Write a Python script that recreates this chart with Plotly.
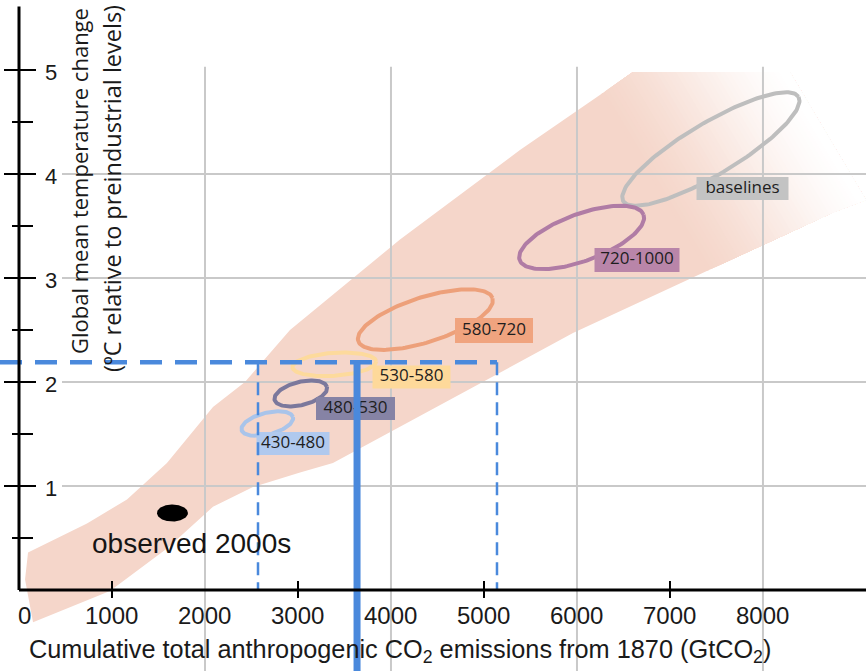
import numpy as np
import plotly.graph_objects as go

# ---------------- data ----------------
scenario_labels = ["baselines", "720-1000", "580-720", "530-580", "480-530", "430-480"]
scenario_emissions = [7440, 6050, 4370, 3390, 3030, 2670]   # ellipse centre, GtCO2
scenario_warming = [4.24, 3.39, 2.60, 2.17, 1.89, 1.60]     # ellipse centre, degC
observed_label = "observed 2000s"
observed_emissions = [1650]
observed_warming = [0.74]

# uncertainty plume (upper and lower edges)
band_upper_x = [65, 97, 731, 1161, 1591, 2086, 2430, 2914, 4097, 5387, 6602, 8290]
band_upper_y = [0.10, 0.36, 0.64, 0.87, 1.22, 1.76, 2.00, 2.50, 3.37, 4.23, 4.98, 4.98]
band_lower_x = [151, 978, 1591, 2086, 2516, 3022, 3376, 4097, 5957, 8753, 9108]
band_lower_y = [-0.31, -0.01, 0.40, 0.80, 0.99, 1.13, 1.22, 1.57, 2.47, 3.63, 3.75]

target_warming = 2.19
target_emissions_low = 2570
target_emissions_mid = 3635
target_emissions_high = 5140

x_ticks = [0, 1000, 2000, 3000, 4000, 5000, 6000, 7000, 8000]
y_ticks = [1, 2, 3, 4, 5]
x_title = "Cumulative total anthropogenic CO<sub>2</sub> emissions from 1870 (GtCO<sub>2</sub>)"
y_title_1 = "Global mean temperature change"
y_title_2 = "(ºC relative to preindustrial levels)"

# ---------------- layout geometry ----------------
W, H = 866, 671
XMIN, XMAX = -204.3, 9108.0
YMIN, YMAX = -0.779, 5.673
KX = W / (XMAX - XMIN)
KY = H / (YMAX - YMIN)


def to_px(x, y):
    return (np.asarray(x) - XMIN) * KX, (YMAX - np.asarray(y)) * KY


def dx(px):
    return px / KX


def dy(py):
    return py / KY


def ellipse(cx, cy, a_px, b_px, ang, n=160):
    t = np.linspace(0, 2 * np.pi, n)
    th = np.radians(ang)
    ex = a_px * np.cos(t) * np.cos(th) - b_px * np.sin(t) * np.sin(th)
    ey = a_px * np.cos(t) * np.sin(th) + b_px * np.sin(t) * np.cos(th)
    return cx + dx(ex), cy + dy(ey)


PINK = np.array([245, 214, 202], float)
WHITE = np.array([255, 255, 255], float)
fig = go.Figure()

# ---- plume with fading end ----
ux, uy = np.array(band_upper_x, float), np.array(band_upper_y, float)
lx, ly = np.array(band_lower_x, float), np.array(band_lower_y, float)


def s_of(x, y):
    px, py = to_px(x, y)
    return px - 0.6 * py


su, sl = s_of(ux, uy), s_of(lx, ly)


def seg(xs, ys, ss, sa, sb):
    m = (ss > sa) & (ss < sb)
    px = list(xs[m]); py = list(ys[m])
    if sa > ss[0]:
        px.insert(0, np.interp(sa, ss, xs)); py.insert(0, np.interp(sa, ss, ys))
    if sb < ss[-1]:
        px.append(np.interp(sb, ss, xs)); py.append(np.interp(sb, ss, ys))
    return px, py


def band_poly(sa, sb, color):
    ax_, ay_ = seg(ux, uy, su, sa, sb)
    bx_, by_ = seg(lx, ly, sl, sa, sb)
    fig.add_trace(go.Scatter(x=ax_ + bx_[::-1], y=ay_ + by_[::-1], fill="toself", mode="lines",
                             line=dict(width=0), fillcolor=color,
                             hoverinfo="skip", showlegend=False))


S0, S1, N = 545.0, 740.0, 40
band_poly(-1e9, S0 + 2, "rgb(%d,%d,%d)" % tuple(PINK))
starts = np.linspace(S0, S1, N + 1)[:-1]
for k, sk in enumerate(starts):
    t = (sk + (S1 - S0) / N / 2 - S0) / (S1 - S0)
    op = 1 - (3 * t * t - 2 * t ** 3) * 0.5 - t * 0.5
    c = WHITE * (1 - op) + PINK * op
    band_poly(sk, 1e9, "rgb(%d,%d,%d)" % tuple(np.round(c)))

# ---- grid lines ----
GRID = "#c9c9c9"
for gx in [2000, 4000, 6000, 8000]:
    fig.add_trace(go.Scatter(x=[gx, gx], y=[5.03, YMIN], mode="lines",
                             line=dict(color=GRID, width=2), hoverinfo="skip", showlegend=False))
for gy in [1, 2, 3, 4]:
    fig.add_trace(go.Scatter(x=[dx(62) + XMIN, XMAX], y=[gy, gy], mode="lines",
                             line=dict(color=GRID, width=2), hoverinfo="skip", showlegend=False))

# ---- observed dot ----
ox, oy = ellipse(observed_emissions[0], observed_warming[0], 15.5, 8.5, 0)
fig.add_trace(go.Scatter(x=ox, y=oy, fill="toself", mode="lines", line=dict(width=0, color="black"),
                         fillcolor="black", hoverinfo="skip", showlegend=False))

# ---- scenario ellipses ----
ell_geom = [(102, 26, 30.8), (66, 23.5, 20.2), (70.5, 22.5, 17.7), (42, 11.5, 4), (27, 11.6, 14), (26.5, 10.8, 14)]
line_cols = ["#bebebe", "#b07ca5", "#eda07a", "#fdda9c", "#7b789c", "#a9c4ea"]
box_cols = ["#c3c3c3", "#b985a9", "#f0a47f", "#fed99a", "#8683a5", "#b0c9ee"]
box_px = [(742.5, 188.5, 92, 23), (637, 260, 85, 24), (494, 330.5, 78, 25),
          (411.5, 377, 78, 23), (355.5, 408.5, 79, 23), (293, 443.5, 73, 23)]
for i in range(len(scenario_labels)):
    a, b, ang = ell_geom[i]
    ex, ey = ellipse(scenario_emissions[i], scenario_warming[i], a, b, ang)
    fig.add_trace(go.Scatter(x=ex, y=ey, mode="lines", line=dict(color=line_cols[i], width=4),
                             hoverinfo="skip", showlegend=False))
for i in range(len(scenario_labels)):
    cxp, cyp, bw, bh = box_px[i]
    x0, x1 = XMIN + dx(cxp - bw / 2), XMIN + dx(cxp + bw / 2)
    y0, y1 = YMAX - dy(cyp + bh / 2), YMAX - dy(cyp - bh / 2)
    fig.add_trace(go.Scatter(x=[x0, x1, x1, x0, x0], y=[y0, y0, y1, y1, y0], fill="toself", mode="lines",
                             line=dict(width=0), fillcolor=box_cols[i], hoverinfo="skip", showlegend=False))
    fig.add_trace(go.Scatter(x=[(x0 + x1) / 2], y=[(y0 + y1) / 2], mode="text", text=[scenario_labels[i]],
                             textposition="middle center",
                             textfont=dict(family="Open Sans, Liberation Sans, sans-serif", size=17, color="#1e1e1e"),
                             hoverinfo="skip", showlegend=False))

# ---- shapes: blue guide lines, axes, ticks ----
BLUE = "#4a89dc"
shapes = []
shapes.append(dict(type="line", xref="x", yref="y", x0=target_emissions_low, x1=target_emissions_low,
                   y0=target_warming, y1=0, line=dict(color=BLUE, width=2.5, dash="13px,7px"), layer="above"))
shapes.append(dict(type="line", xref="x", yref="y", x0=target_emissions_high, x1=target_emissions_high,
                   y0=target_warming, y1=0, line=dict(color=BLUE, width=2.5, dash="13px,7px"), layer="above"))
shapes.append(dict(type="line", xref="x", yref="y", x0=XMIN, x1=target_emissions_high,
                   y0=target_warming, y1=target_warming, line=dict(color=BLUE, width=4.5, dash="22px,13px"),
                   layer="above"))
shapes.append(dict(type="line", xref="x", yref="y", x0=target_emissions_mid, x1=target_emissions_mid,
                   y0=target_warming, y1=YMIN, line=dict(color=BLUE, width=7), layer="above"))
# axes
shapes.append(dict(type="line", xref="x", yref="y", x0=0, x1=0, y0=0, y1=5.61,
                   line=dict(color="black", width=3), layer="above"))
shapes.append(dict(type="line", xref="x", yref="y", x0=0, x1=XMAX, y0=0, y1=0,
                   line=dict(color="black", width=3), layer="above"))
for v in y_ticks:
    shapes.append(dict(type="line", xref="x", yref="y", x0=dx(-15), x1=dx(17), y0=v, y1=v,
                       line=dict(color="black", width=2), layer="above"))
for v in [0.5, 1.5, 2.5, 3.5, 4.5]:
    shapes.append(dict(type="line", xref="x", yref="y", x0=dx(-7), x1=dx(14), y0=v, y1=v,
                       line=dict(color="black", width=2), layer="above"))
for v in [1000, 3000, 5000, 7000]:
    shapes.append(dict(type="line", xref="x", yref="y", x0=v, x1=v, y0=dy(9), y1=-dy(8),
                       line=dict(color="black", width=2), layer="above"))

# ---- annotations ----
ann = []
TICKFONT = dict(family="Liberation Sans, Arial, sans-serif", size=24, color="#1a1a1a")
for v in x_ticks:
    xv = v + (dx(5) if v == 0 else 0)
    ann.append(dict(x=xv, y=-dy(26), xref="x", yref="y", text=str(v), showarrow=False,
                    font=TICKFONT, xanchor="center", yanchor="middle"))
for v in y_ticks:
    ann.append(dict(x=dx(32), y=v - dy(3), xref="x", yref="y", text=str(v), showarrow=False,
                    font=dict(family="Liberation Sans, Arial, sans-serif", size=22, color="#1a1a1a"),
                    xanchor="center", yanchor="middle"))
ann.append(dict(x=XMIN + dx(400), y=YMAX - dy(651), xref="x", yref="y", text=x_title, showarrow=False,
                font=dict(family="Liberation Sans, Arial, sans-serif", size=25.3, color="#1a1a1a"),
                xanchor="center", yanchor="middle"))
ann.append(dict(x=XMIN + dx(79), y=YMAX - dy(181), xref="x", yref="y", text=y_title_1, showarrow=False,
                textangle=-90, font=dict(family="Open Sans, sans-serif", size=22, color="#1a1a1a"),
                xanchor="center", yanchor="middle"))
ann.append(dict(x=XMIN + dx(112), y=YMAX - dy(189), xref="x", yref="y", text=y_title_2, showarrow=False,
                textangle=-90, font=dict(family="Open Sans, sans-serif", size=23.5, color="#1a1a1a"),
                xanchor="center", yanchor="middle"))
ann.append(dict(x=XMIN + dx(191), y=YMAX - dy(543), xref="x", yref="y", text=observed_label, showarrow=False,
                font=dict(family="Liberation Sans, Arial, sans-serif", size=28, color="#151515"),
                xanchor="center", yanchor="middle"))

fig.update_layout(
    width=W, height=H, autosize=False,
    margin=dict(l=0, r=0, t=0, b=0, pad=0),
    paper_bgcolor="white", plot_bgcolor="white",
    xaxis=dict(range=[XMIN, XMAX], visible=False, fixedrange=True),
    yaxis=dict(range=[YMIN, YMAX], visible=False, fixedrange=True),
    shapes=shapes, annotations=ann, showlegend=False,
)
fig.write_html("out.html", config={"displayModeBar": False},
               post_script="document.body.style.margin='0px';document.body.style.overflow='hidden';")
